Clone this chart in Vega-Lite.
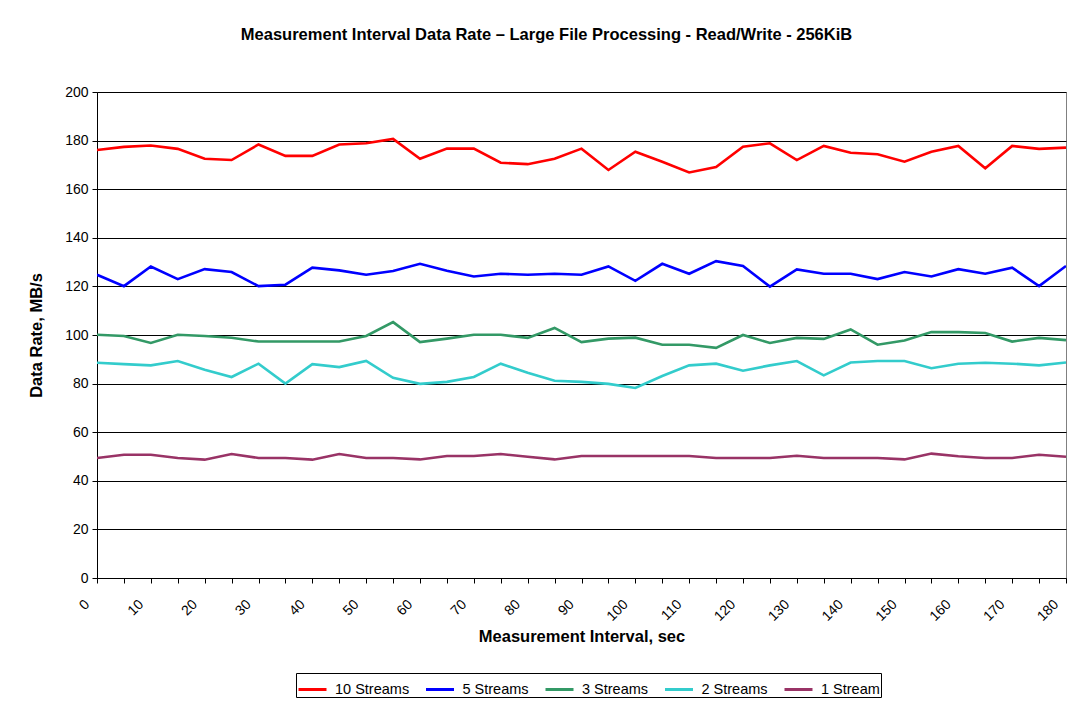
{
  "$schema": "https://vega.github.io/schema/vega-lite/v6.json",
  "width": 969,
  "height": 486,
  "autosize": {"type": "none"},
  "padding": {"left": 97, "top": 92, "right": 5, "bottom": 129},
  "background": "white",
  "title": {
    "text": "Measurement Interval Data Rate \u2013 Large File Processing - Read/Write - 256KiB",
    "font": "Liberation Sans",
    "fontSize": 16.5,
    "fontWeight": "bold",
    "color": "black",
    "anchor": "middle",
    "dx": -35,
    "offset": 42
  },
  "data": {
    "values": [
      {"t": 0, "10 Streams": 176.1, "5 Streams": 124.8, "3 Streams": 100.1, "2 Streams": 88.6, "1 Stream": 49.4},
      {"t": 5, "10 Streams": 177.4, "5 Streams": 120.1, "3 Streams": 99.6, "2 Streams": 88.0, "1 Stream": 50.7},
      {"t": 10, "10 Streams": 178.0, "5 Streams": 128.2, "3 Streams": 96.7, "2 Streams": 87.5, "1 Stream": 50.7},
      {"t": 15, "10 Streams": 176.6, "5 Streams": 123.0, "3 Streams": 100.1, "2 Streams": 89.3, "1 Stream": 49.4},
      {"t": 20, "10 Streams": 172.5, "5 Streams": 127.1, "3 Streams": 99.6, "2 Streams": 85.7, "1 Stream": 48.7},
      {"t": 25, "10 Streams": 172.0, "5 Streams": 125.9, "3 Streams": 98.9, "2 Streams": 82.7, "1 Stream": 51.0},
      {"t": 30, "10 Streams": 178.4, "5 Streams": 120.1, "3 Streams": 97.3, "2 Streams": 88.2, "1 Stream": 49.4},
      {"t": 35, "10 Streams": 173.7, "5 Streams": 120.7, "3 Streams": 97.3, "2 Streams": 80.0, "1 Stream": 49.4},
      {"t": 40, "10 Streams": 173.7, "5 Streams": 127.7, "3 Streams": 97.3, "2 Streams": 88.0, "1 Stream": 48.7},
      {"t": 45, "10 Streams": 178.4, "5 Streams": 126.6, "3 Streams": 97.3, "2 Streams": 86.8, "1 Stream": 51.0},
      {"t": 50, "10 Streams": 178.9, "5 Streams": 124.8, "3 Streams": 99.6, "2 Streams": 89.3, "1 Stream": 49.4},
      {"t": 55, "10 Streams": 180.7, "5 Streams": 126.3, "3 Streams": 105.3, "2 Streams": 82.4, "1 Stream": 49.4},
      {"t": 60, "10 Streams": 172.5, "5 Streams": 129.3, "3 Streams": 97.1, "2 Streams": 79.9, "1 Stream": 48.8},
      {"t": 65, "10 Streams": 176.7, "5 Streams": 126.4, "3 Streams": 98.5, "2 Streams": 80.7, "1 Stream": 50.2},
      {"t": 70, "10 Streams": 176.7, "5 Streams": 124.1, "3 Streams": 100.1, "2 Streams": 82.7, "1 Stream": 50.2},
      {"t": 75, "10 Streams": 170.9, "5 Streams": 125.2, "3 Streams": 100.1, "2 Streams": 88.2, "1 Stream": 51.0},
      {"t": 80, "10 Streams": 170.3, "5 Streams": 124.8, "3 Streams": 98.8, "2 Streams": 84.5, "1 Stream": 49.9},
      {"t": 85, "10 Streams": 172.5, "5 Streams": 125.2, "3 Streams": 102.9, "2 Streams": 81.2, "1 Stream": 48.8},
      {"t": 90, "10 Streams": 176.7, "5 Streams": 124.8, "3 Streams": 97.1, "2 Streams": 80.7, "1 Stream": 50.2},
      {"t": 95, "10 Streams": 167.9, "5 Streams": 128.2, "3 Streams": 98.5, "2 Streams": 79.9, "1 Stream": 50.2},
      {"t": 100, "10 Streams": 175.4, "5 Streams": 122.3, "3 Streams": 98.9, "2 Streams": 78.2, "1 Stream": 50.2},
      {"t": 105, "10 Streams": 171.3, "5 Streams": 129.3, "3 Streams": 96.0, "2 Streams": 83.1, "1 Stream": 50.2},
      {"t": 110, "10 Streams": 166.9, "5 Streams": 125.2, "3 Streams": 96.0, "2 Streams": 87.5, "1 Stream": 50.2},
      {"t": 115, "10 Streams": 169.1, "5 Streams": 130.4, "3 Streams": 94.7, "2 Streams": 88.2, "1 Stream": 49.4},
      {"t": 120, "10 Streams": 177.5, "5 Streams": 128.4, "3 Streams": 100.0, "2 Streams": 85.3, "1 Stream": 49.4},
      {"t": 125, "10 Streams": 178.9, "5 Streams": 119.9, "3 Streams": 96.7, "2 Streams": 87.5, "1 Stream": 49.4},
      {"t": 130, "10 Streams": 172.0, "5 Streams": 127.0, "3 Streams": 98.8, "2 Streams": 89.3, "1 Stream": 50.3},
      {"t": 135, "10 Streams": 177.8, "5 Streams": 125.2, "3 Streams": 98.4, "2 Streams": 83.4, "1 Stream": 49.4},
      {"t": 140, "10 Streams": 175.0, "5 Streams": 125.2, "3 Streams": 102.3, "2 Streams": 88.7, "1 Stream": 49.4},
      {"t": 145, "10 Streams": 174.4, "5 Streams": 123.0, "3 Streams": 96.0, "2 Streams": 89.3, "1 Stream": 49.4},
      {"t": 150, "10 Streams": 171.3, "5 Streams": 125.9, "3 Streams": 97.7, "2 Streams": 89.3, "1 Stream": 48.8},
      {"t": 155, "10 Streams": 175.4, "5 Streams": 124.1, "3 Streams": 101.2, "2 Streams": 86.3, "1 Stream": 51.2},
      {"t": 160, "10 Streams": 177.8, "5 Streams": 127.1, "3 Streams": 101.2, "2 Streams": 88.2, "1 Stream": 50.1},
      {"t": 165, "10 Streams": 168.6, "5 Streams": 125.2, "3 Streams": 100.8, "2 Streams": 88.6, "1 Stream": 49.4},
      {"t": 170, "10 Streams": 177.8, "5 Streams": 127.7, "3 Streams": 97.3, "2 Streams": 88.2, "1 Stream": 49.4},
      {"t": 175, "10 Streams": 176.6, "5 Streams": 120.1, "3 Streams": 98.8, "2 Streams": 87.5, "1 Stream": 50.7},
      {"t": 180, "10 Streams": 177.1, "5 Streams": 128.4, "3 Streams": 97.9, "2 Streams": 88.7, "1 Stream": 49.9}
    ]
  },
  "transform": [
    {"fold": ["10 Streams", "5 Streams", "3 Streams", "2 Streams", "1 Stream"], "as": ["series", "rate"]}
  ],
  "mark": {"type": "line", "strokeWidth": 2.6, "strokeJoin": "miter", "clip": true},
  "encoding": {
    "x": {
      "field": "t",
      "type": "quantitative",
      "scale": {"domain": [0, 180], "nice": false, "zero": false},
      "axis": {
        "title": "Measurement Interval, sec",
        "values": [0,5,10,15,20,25,30,35,40,45,50,55,60,65,70,75,80,85,90,95,100,105,110,115,120,125,130,135,140,145,150,155,160,165,170,175,180],
        "labelExpr": "datum.value % 10 === 0 ? datum.label : ''",
        "labelAngle": -45,
        "labelAlign": "right",
        "labelBaseline": "middle",
        "labelPadding": 19,
        "labelOffset": -10,
        "labelFlush": false,
        "labelOverlap": false,
        "labelFont": "Liberation Sans",
        "labelFontSize": 14,
        "labelColor": "black",
        "titleFont": "Liberation Sans",
        "titleFontSize": 16.5,
        "titleFontWeight": "bold",
        "titleColor": "black",
        "titlePadding": 5,
        "grid": false,
        "domainColor": "black",
        "tickColor": "black",
        "tickSize": 5
      }
    },
    "y": {
      "field": "rate",
      "type": "quantitative",
      "scale": {"domain": [0, 200], "nice": false},
      "axis": {
        "title": "Data Rate, MB/s",
        "values": [0,20,40,60,80,100,120,140,160,180,200],
        "labelFont": "Liberation Sans",
        "labelFontSize": 14,
        "labelColor": "black",
        "labelPadding": 4,
        "titleFont": "Liberation Sans",
        "titleFontSize": 16.5,
        "titleFontWeight": "bold",
        "titleColor": "black",
        "titlePadding": 20,
        "grid": true,
        "gridColor": "black",
        "gridWidth": 1,
        "domainColor": "black",
        "tickColor": "black",
        "tickSize": 5
      }
    },
    "color": {
      "field": "series",
      "type": "nominal",
      "sort": ["10 Streams", "5 Streams", "3 Streams", "2 Streams", "1 Stream"],
      "scale": {
        "domain": ["10 Streams", "5 Streams", "3 Streams", "2 Streams", "1 Stream"],
        "range": ["#FF0000", "#0000FF", "#339966", "#33CCCC", "#993366"]
      },
      "legend": {
        "title": null,
        "orient": "none",
        "legendX": 199,
        "legendY": 581,
        "direction": "horizontal",
        "columns": 5,
        "symbolType": "stroke",
        "symbolSize": 784,
        "symbolStrokeWidth": 3,
        "labelFont": "Liberation Sans",
        "labelFontSize": 14.5,
        "labelColor": "black",
        "labelOffset": 7,
        "columnPadding": 9.5,
        "strokeColor": "black",
        "padding": 1
      }
    }
  },
  "config": {
    "view": {"stroke": "#808080", "strokeWidth": 1}
  }
}
